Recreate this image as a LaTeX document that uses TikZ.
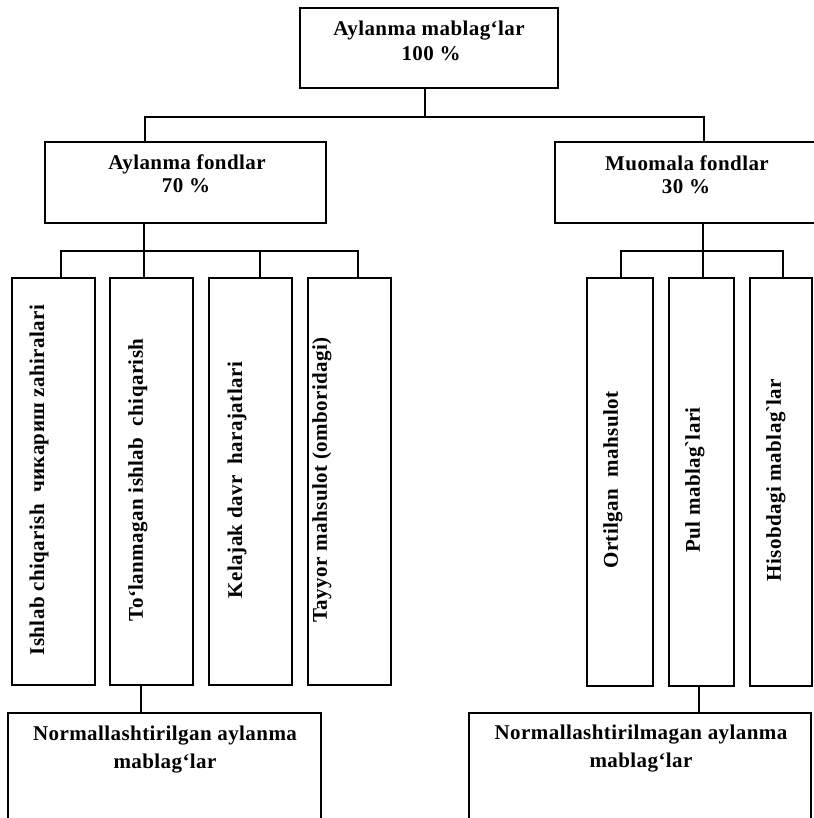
\documentclass[tikz,border=0pt]{standalone}
\usepackage{fontspec}
\setmainfont{Liberation Serif}[LetterSpace=2]
\begin{document}
\begin{tikzpicture}[x=1pt, y=-1pt,
  box/.style={draw, rectangle, inner sep=0pt, line width=1.3pt},
  link/.style={draw, line width=1.3pt},
  txt/.style={inner sep=0pt, anchor=base, font=\fontsize{21}{25}\selectfont\bfseries},
  vtxt/.style={inner sep=0pt, rotate=90, anchor=center, font=\fontsize{21}{25}\selectfont\bfseries}]
\useasboundingbox (0,0) rectangle (813,818);

% boxes
\node[box, minimum width=258, minimum height=80] (top) at (429,48) {};
\node[box, minimum width=281, minimum height=81] (af) at (185.5,182.5) {};
\node[box, minimum width=265, minimum height=81] (mf) at (687.5,182.5) {};

\node[box, minimum width=83, minimum height=407] (l1) at (53.5,481.5) {};
\node[box, minimum width=83, minimum height=407] (l2) at (151.5,481.5) {};
\node[box, minimum width=83, minimum height=407] (l3) at (250.5,481.5) {};
\node[box, minimum width=83, minimum height=407] (l4) at (349.5,481.5) {};

\node[box, minimum width=66, minimum height=408] (r1) at (620,482) {};
\node[box, minimum width=65, minimum height=408] (r2) at (701.5,482) {};
\node[box, minimum width=62, minimum height=408] (r3) at (781,482) {};

\node[box, minimum width=313, minimum height=122] (nb) at (164.5,774) {};
\node[box, minimum width=342, minimum height=122] (nm) at (640,774) {};

% box captions
\node[txt] (topA) at (429,36) {Aylanma mablag‘lar};
\node[txt] (topB) at (431,61) {100 \%};
\node[txt] (afA) at (187,170) {Aylanma fondlar};
\node[txt] (afB) at (186,193) {70 \%};
\node[txt] (mfA) at (687,171) {Muomala fondlar};
\node[txt] (mfB) at (686,194) {30 \%};
\node[txt] (nbA) at (165,740) {Normallashtirilgan aylanma};
\node[txt] (nbB) at (165,768) {mablag‘lar};
\node[txt] (nmA) at (641,739) {Normallashtirilmagan aylanma};
\node[txt] (nmB) at (641,767) {mablag‘lar};

\node[vtxt] (l1t) at (39,480) {Ishlab chiqarish\ \ чикариш zahiralari};
\node[vtxt] (l2t) at (138,480) {To‘lanmagan ishlab\ \ chiqarish};
\node[vtxt] (l3t) at (237,480) {Kelajak davr\ \ harajatlari};
\node[vtxt] (l4t) at (322,480) {Tayyor mahsulot (omboridagi)};
\node[vtxt] (r1t) at (613,480) {Ortilgan\ \ mahsulot};
\node[vtxt] (r2t) at (695,480) {Pul mablag\textasciigrave lari};
\node[vtxt] (r3t) at (776,480) {Hisobdagi mablag\textasciigrave lar};

% junction points of the connectors
\coordinate (j0) at (425,117);
\coordinate (ja) at (145,117);
\coordinate (jm) at (704,117);
\coordinate (a0) at (144,251);
\coordinate (a1) at (61,251);
\coordinate (a3) at (260,251);
\coordinate (a4) at (358,251);
\coordinate (m0) at (703,251);
\coordinate (m1) at (621,251);
\coordinate (m3) at (783,251);
\coordinate (nL) at (141,700);
\coordinate (nR) at (699,700);

% connectors
\path[link] (top.south -| j0) -- (j0);
\path[link] (af.north -| ja) -- (ja) -- (jm) -- (mf.north -| jm);

\path[link] (af.south -| a0) -- (l2.north -| a0);
\path[link] (l1.north -| a1) -- (a1) -- (a4) -- (l4.north -| a4);
\path[link] (a3) -- (l3.north -| a3);

\path[link] (mf.south -| m0) -- (r2.north -| m0);
\path[link] (r1.north -| m1) -- (m1) -- (m3) -- (r3.north -| m3);

\path[link] (l2.south -| nL) -- (nb.north -| nL);
\path[link] (r2.south -| nR) -- (nm.north -| nR);
\end{tikzpicture}
\end{document}
